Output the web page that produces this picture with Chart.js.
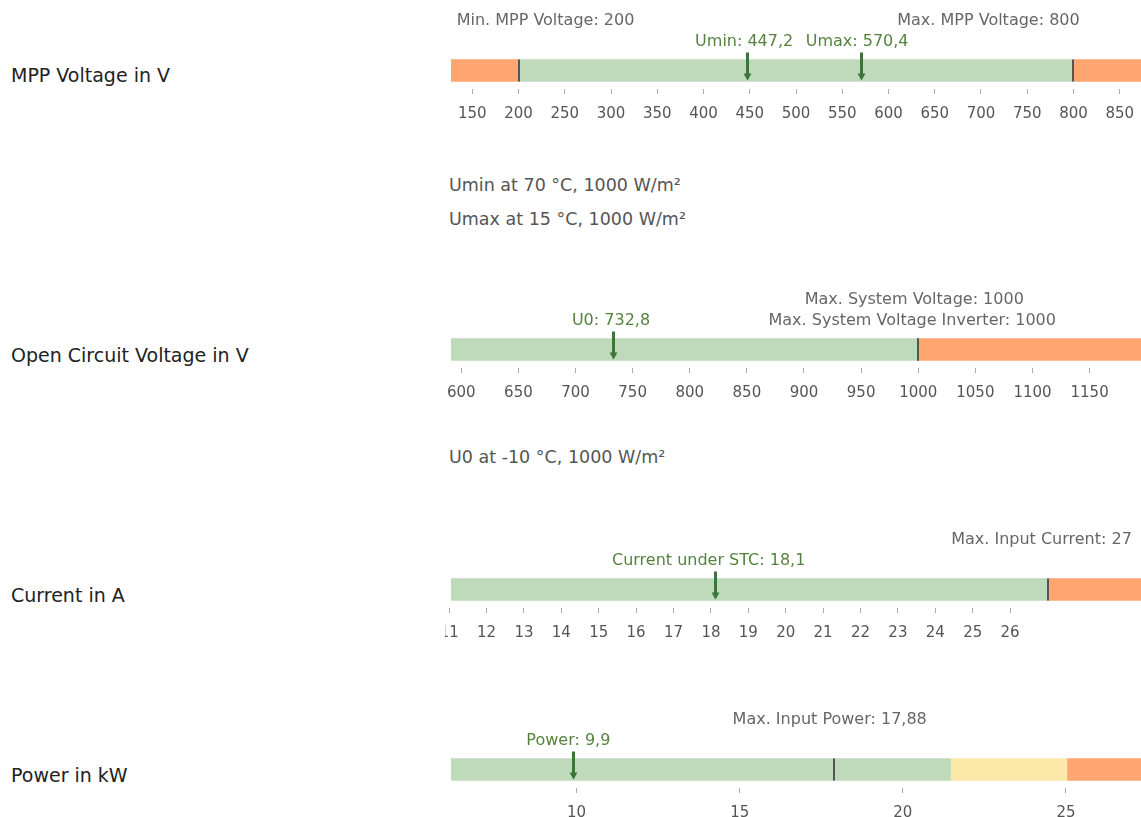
<!DOCTYPE html>
<html>
<head>
<meta charset="utf-8">
<script src="https://cdn.jsdelivr.net/npm/chart.js@4/dist/chart.umd.min.js"></script>
<style>
body{margin:0;background:#fff;font-family:"DejaVu Sans",sans-serif;}
#wrap{position:relative;width:1141px;height:817px;overflow:hidden;}
.titel{position:absolute;left:11px;font-size:19px;color:#222;line-height:22px;}
.note{position:absolute;left:449px;font-size:17.5px;color:#555;line-height:20px;}
canvas{position:absolute;left:445px;}
</style>
</head>
<body>
<div id="wrap">
  <div class="titel" style="top:64px">MPP Voltage in V</div>
  <div class="titel" style="top:344px">Open Circuit Voltage in V</div>
  <div class="titel" style="top:584px">Current in A</div>
  <div class="titel" style="top:764px">Power in kW</div>
  <div class="note" style="top:175px">Umin at 70 °C, 1000 W/m²</div>
  <div class="note" style="top:209px">Umax at 15 °C, 1000 W/m²</div>
  <div class="note" style="top:447px">U0 at -10 °C, 1000 W/m²</div>
  <canvas id="g1" width="696" height="126" style="top:0px"></canvas>
  <canvas id="g2" width="696" height="126" style="top:279px"></canvas>
  <canvas id="g3" width="696" height="126" style="top:519px"></canvas>
  <canvas id="g4" width="696" height="126" style="top:699px"></canvas>
</div>
<script>
// MPP voltage
let mppRange = [127, 873];
let mppBands = [[127, 200], [200, 800], [800, 873]];
let mppBandKind = ['over', 'ok', 'over'];
let mppTicks = [100, 150, 200, 250, 300, 350, 400, 450, 500, 550, 600, 650, 700, 750, 800, 850];
let mppLimits = [200, 800];
let mppLimitNames = ['Min. MPP Voltage', 'Max. MPP Voltage'];
let mppMarkers = [447.2, 570.4];
let mppMarkerNames = ['Umin', 'Umax'];

// open circuit voltage
let ocvRange = [591, 1195];
let ocvBands = [[591, 1000], [1000, 1195]];
let ocvBandKind = ['ok', 'over'];
let ocvTicks = [600, 650, 700, 750, 800, 850, 900, 950, 1000, 1050, 1100, 1150];
let ocvLimits = [1000, 1000];
let ocvLimitNames = ['Max. System Voltage', 'Max. System Voltage Inverter'];
let ocvMarkers = [732.8];
let ocvMarkerNames = ['U0'];

// current
let curRange = [11.05, 29.5];
let curBands = [[11.05, 27], [27, 29.5]];
let curBandKind = ['ok', 'over'];
let curTicks = [11, 12, 13, 14, 15, 16, 17, 18, 19, 20, 21, 22, 23, 24, 25, 26];
let curLimits = [27];
let curLimitNames = ['Max. Input Current'];
let curMarkers = [18.1];
let curMarkerNames = ['Current under STC'];

// power
let powRange = [6.15, 27.3];
let powBands = [[6.15, 21.46], [21.46, 25.03], [25.03, 27.3]];
let powBandKind = ['ok', 'warn', 'over'];
let powTicks = [10, 15, 20, 25];
let powLimits = [17.88];
let powLimitNames = ['Max. Input Power'];
let powMarkers = [9.9];
let powMarkerNames = ['Power'];

let farben = {ok: '#bfdabb', warn: '#fce9a9', over: '#ffa570'};

function zahl(v){
    return String(v).replace('.', ',');
}

let gaugePlugin = {
    id: 'gauge',
    afterDatasetsDraw(chart, args, opts){
        let ctx = chart.ctx;
        let x = chart.scales.x;
        let area = chart.chartArea;
        let bar = chart.getDatasetMeta(0).data[0];
        let top = bar.y - bar.height / 2;
        let bot = bar.y + bar.height / 2;
        ctx.save();
        // limit lines
        ctx.strokeStyle = '#555';
        ctx.lineWidth = 2;
        opts.limits.forEach(v => {
            let px = Math.round(x.getPixelForValue(v));
            ctx.beginPath();
            ctx.moveTo(px, top);
            ctx.lineTo(px, bot);
            ctx.stroke();
        });
        // markers
        ctx.strokeStyle = '#3b7538';
        ctx.fillStyle = '#3b7538';
        ctx.lineWidth = 3;
        opts.markers.forEach(v => {
            let px = Math.round(x.getPixelForValue(v)) + 0.5;
            ctx.beginPath();
            ctx.moveTo(px, top - 7);
            ctx.lineTo(px, bot - 7);
            ctx.stroke();
            ctx.beginPath();
            ctx.moveTo(px - 4, bot - 8);
            ctx.lineTo(px + 4, bot - 8);
            ctx.lineTo(px, bot - 1);
            ctx.closePath();
            ctx.fill();
        });
        // texts
        ctx.font = '16px "DejaVu Sans"';
        ctx.textAlign = 'center';
        ctx.textBaseline = 'middle';
        ctx.fillStyle = '#666';
        opts.limits.forEach((v, i) => {
            let px = x.getPixelForValue(v) + opts.limitShift[i];
            ctx.fillText(opts.limitNames[i] + ': ' + zahl(v), px, area.top - 31 + opts.limitRow[i] * 21);
        });
        ctx.fillStyle = '#55833f';
        opts.markers.forEach((v, i) => {
            let px = x.getPixelForValue(v) + opts.markerShift[i];
            ctx.fillText(opts.markerNames[i] + ': ' + zahl(v), px, area.top - 10);
        });
        ctx.restore();
    }
};

function gauge(id, range, bands, kind, ticks, limits, limitNames, markers, markerNames, limitShift, limitRow, markerShift){
    let cont = document.getElementById(id).getContext('2d');
    return new Chart(cont, {
        type: 'bar',
        data: {
            labels: [''],
            datasets: bands.map((b, i) => ({
                data: [b],
                backgroundColor: farben[kind[i]],
                borderWidth: 0,
                barThickness: 22,
                grouped: false,
            }))
        },
        options: {
            indexAxis: 'y',
            responsive: false,
            animation: false,
            layout: {padding: {left: 6, top: 52, right: 0, bottom: 0}},
            plugins: {
                legend: {display: false},
                tooltip: {enabled: false},
                gauge: {
                    limits: limits, limitNames: limitNames,
                    markers: markers, markerNames: markerNames,
                    limitShift: limitShift, limitRow: limitRow, markerShift: markerShift
                }
            },
            scales: {
                y: {display: false},
                x: {
                    min: range[0],
                    max: range[1],
                    bounds: 'data',
                    border: {display: false},
                    grid: {drawOnChartArea: false, tickLength: 5, color: '#aaa'},
                    ticks: {
                        autoSkip: false,
                        maxRotation: 0,
                        padding: 11,
                        color: '#555',
                        font: {family: 'DejaVu Sans', size: 15},
                        callback: v => String(v)
                    },
                    afterBuildTicks: s => { s.ticks = ticks.map(v => ({value: v})); },
                    afterFit: s => { s.paddingLeft = 0; s.paddingRight = 0; }
                }
            }
        },
        plugins: [gaugePlugin]
    });
}

document.addEventListener("DOMContentLoaded", ()=>{
    gauge('g1', mppRange, mppBands, mppBandKind, mppTicks, mppLimits, mppLimitNames, mppMarkers, mppMarkerNames, [27, -85], [0, 0], [-3, -4]);
    gauge('g2', ocvRange, ocvBands, ocvBandKind, ocvTicks, ocvLimits, ocvLimitNames, ocvMarkers, ocvMarkerNames, [-4, -6], [0, 1], [-2]);
    gauge('g3', curRange, curBands, curBandKind, curTicks, curLimits, curLimitNames, curMarkers, curMarkerNames, [-6], [0], [-6]);
    gauge('g4', powRange, powBands, powBandKind, powTicks, powLimits, powLimitNames, powMarkers, powMarkerNames, [-4], [0], [-5]);
});
</script>
</body>
</html>
